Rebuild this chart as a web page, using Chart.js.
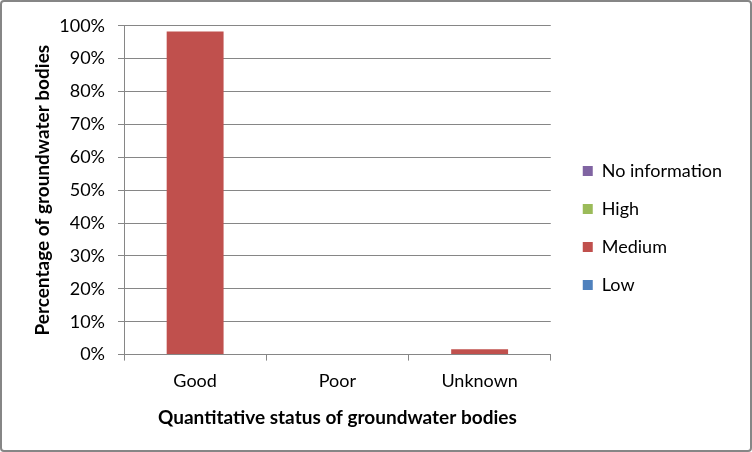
<!DOCTYPE html>
<html>
<head>
<meta charset="utf-8">
<script src="https://cdn.jsdelivr.net/npm/chart.js@4"></script>
<style>
  html, body { margin: 0; padding: 0; background: #fff; }
  #wrap {
    width: 748px; height: 448px;
    border: 2px solid #868686; border-radius: 4px;
    position: relative;
  }
</style>
</head>
<body>
<div id="wrap"><canvas id="myChart" width="748" height="448"></canvas></div>
<script>
// categories on the x axis
let categories = ['Good', 'Poor', 'Unknown'];

// series (percent of groundwater bodies per status)
let lowValues = [0, 0, 0];
let mediumValues = [98.3, 0, 1.6];
let highValues = [0, 0, 0];
let noInfoValues = [0, 0, 0];

let yTicks = [0, 10, 20, 30, 40, 50, 60, 70, 80, 90, 100];

const FONT = 'Lato, Calibri, "Liberation Sans", sans-serif';
const GRID = '#868686';

// move the legend a bit right and down, away from the plot
const legendShift = {
    id: 'legendShift',
    afterLayout(chart) {
        let lg = chart.legend;
        if (lg) {
            lg.left += 12;
            lg.right += 12;
            lg.top += 6;
            lg.bottom += 6;
        }
    }
};

let ctx = document.getElementById('myChart').getContext('2d');

let myChart = new Chart(ctx, {
    type: 'bar',
    data: {
        labels: categories,
        datasets: [
            { label: 'Low', data: lowValues, backgroundColor: '#4F81BD' },
            { label: 'Medium', data: mediumValues, backgroundColor: '#C0504D' },
            { label: 'High', data: highValues, backgroundColor: '#9BBB59' },
            { label: 'No information', data: noInfoValues, backgroundColor: '#8064A2' }
        ]
    },
    plugins: [legendShift],
    options: {
        responsive: false,
        animation: false,
        barPercentage: 0.4,
        categoryPercentage: 1.0,
        layout: {
            padding: { left: 10, right: 30, top: 13, bottom: 21 }
        },
        plugins: {
            tooltip: { enabled: false },
            legend: {
                position: 'right',
                reverse: true,
                labels: {
                    boxWidth: 10,
                    boxHeight: 10,
                    padding: 20,
                    color: '#000',
                    font: { family: FONT, size: 18 }
                }
            }
        },
        scales: {
            x: {
                stacked: true,
                grid: {
                    drawOnChartArea: false,
                    drawTicks: true,
                    tickLength: 6,
                    color: GRID
                },
                border: { color: GRID, width: 1 },
                ticks: {
                    color: '#000',
                    padding: 10,
                    font: { family: FONT, size: 18 }
                },
                title: {
                    display: true,
                    text: 'Quantitative status of groundwater bodies',
                    color: '#000',
                    font: { family: FONT, size: 19, weight: 'bold' },
                    padding: { top: 4, bottom: 0 }
                }
            },
            y: {
                stacked: true,
                min: 0,
                max: 100,
                afterBuildTicks: (axis) => {
                    axis.ticks = yTicks.map(v => ({ value: v }));
                },
                afterFit: (axis) => {
                    axis.width = 112;
                },
                grid: {
                    color: GRID,
                    tickLength: 6
                },
                border: { color: GRID, width: 1 },
                ticks: {
                    color: '#000',
                    padding: 13,
                    font: { family: FONT, size: 18 },
                    callback: (v) => v + '%'
                },
                title: {
                    display: true,
                    text: 'Percentage of groundwater bodies',
                    color: '#000',
                    font: { family: FONT, size: 19, weight: 'bold' },
                    padding: { top: 19, bottom: 0 }
                }
            }
        }
    }
});
</script>
</body>
</html>
